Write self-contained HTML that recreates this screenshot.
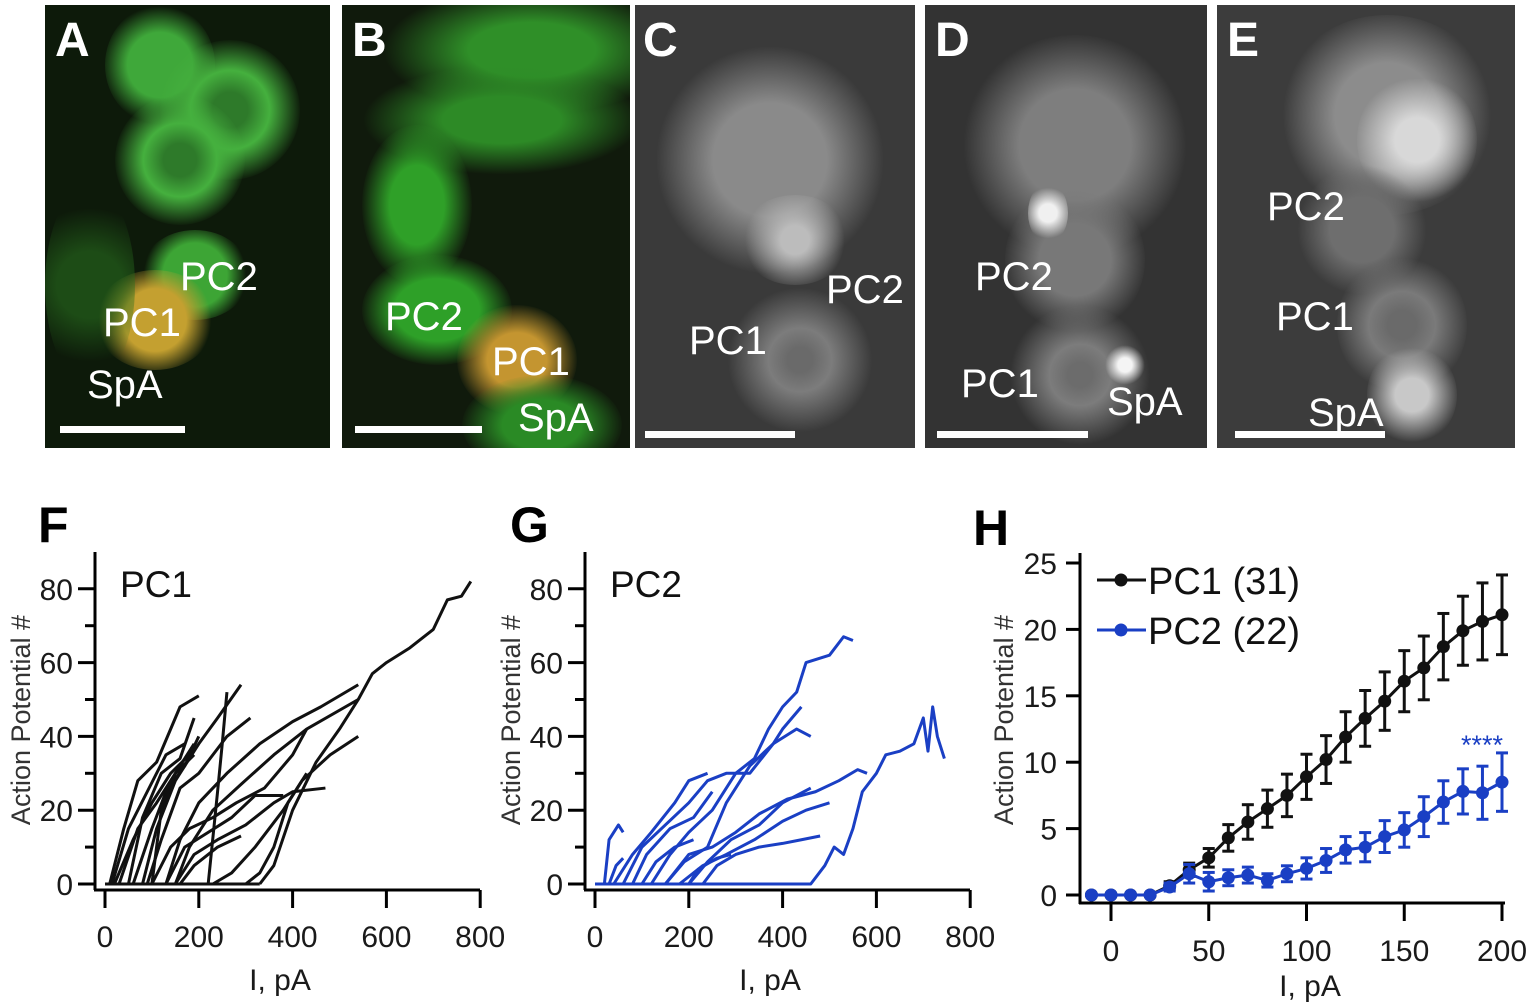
<!DOCTYPE html>
<html><head><meta charset="utf-8">
<style>
html,body{margin:0;padding:0;background:#fff;width:1535px;height:1006px;overflow:hidden;position:relative;font-family:"Liberation Sans",sans-serif}
.panel{position:absolute;overflow:hidden}
.blob{position:absolute;border-radius:50%}
.lbl{position:absolute;color:#fff;font-family:"Liberation Sans Narrow","Liberation Sans",sans-serif;font-size:40px;line-height:1;white-space:nowrap}
.plet{position:absolute;color:#fff;font-weight:bold;font-family:"Liberation Sans Narrow","Liberation Sans",sans-serif;font-size:48px;line-height:1}
.bar{position:absolute;background:#fff;height:7px}
.big{position:absolute;font-weight:bold;font-size:50px;line-height:1;color:#000;font-family:"Liberation Sans",sans-serif}
svg text{font-family:"Liberation Sans",sans-serif}
</style></head><body>

<!-- Panel A -->
<div class="panel" style="left:45px;top:5px;width:285px;height:443px;background:#0d1a0a">
  <div class="blob" style="left:60px;top:0;width:110px;height:120px;background:radial-gradient(circle,#3fa83a 40%,rgba(40,120,30,0) 72%)"></div>
  <div class="blob" style="left:115px;top:35px;width:140px;height:140px;background:radial-gradient(circle,#2e7a2a 18%,#45b03e 40%,rgba(40,120,30,0) 72%)"></div>
  <div class="blob" style="left:70px;top:90px;width:130px;height:130px;background:radial-gradient(circle,#2e7a2a 18%,#45b03e 40%,rgba(40,120,30,0) 72%)"></div>
  <div class="blob" style="left:95px;top:225px;width:110px;height:90px;background:radial-gradient(circle,#3da535 45%,rgba(40,120,30,0) 72%)"></div>
  <div class="blob" style="left:50px;top:265px;width:120px;height:100px;background:radial-gradient(circle,#c4a030 40%,rgba(160,130,20,0) 72%)"></div>
  <div class="blob" style="left:0;top:180px;width:90px;height:200px;background:radial-gradient(circle,rgba(40,110,30,0.6) 30%,rgba(40,110,30,0) 70%)"></div>
  <div class="plet" style="left:10px;top:12px">A</div>
  <div class="lbl" style="left:135px;top:252px">PC2</div>
  <div class="lbl" style="left:58px;top:298px">PC1</div>
  <div class="lbl" style="left:42px;top:360px">SpA</div>
  <div class="bar" style="left:15px;top:421px;width:125px"></div>
</div>

<!-- Panel B -->
<div class="panel" style="left:342px;top:5px;width:288px;height:443px;background:#101a0c">
  <div class="blob" style="left:40px;top:-20px;width:300px;height:130px;background:radial-gradient(ellipse,#2f8f28 30%,rgba(40,120,30,0) 70%)"></div>
  <div class="blob" style="left:20px;top:60px;width:280px;height:110px;background:radial-gradient(ellipse,#2d8a26 30%,rgba(40,120,30,0) 70%)"></div>
  <div class="blob" style="left:20px;top:120px;width:110px;height:160px;background:radial-gradient(ellipse,#2fa028 35%,rgba(40,120,30,0) 72%)"></div>
  <div class="blob" style="left:20px;top:250px;width:150px;height:110px;background:radial-gradient(ellipse,#2ea028 40%,rgba(40,120,30,0) 72%)"></div>
  <div class="blob" style="left:115px;top:300px;width:120px;height:110px;background:radial-gradient(ellipse,#c49530 35%,rgba(150,110,20,0) 72%)"></div>
  <div class="blob" style="left:120px;top:370px;width:160px;height:100px;background:radial-gradient(ellipse,#2a8a25 35%,rgba(40,120,30,0) 72%)"></div>
  <div class="plet" style="left:10px;top:12px">B</div>
  <div class="lbl" style="left:43px;top:292px">PC2</div>
  <div class="lbl" style="left:150px;top:337px">PC1</div>
  <div class="lbl" style="left:176px;top:393px">SpA</div>
  <div class="bar" style="left:13px;top:421px;width:127px"></div>
</div>

<!-- Panel C -->
<div class="panel" style="left:635px;top:5px;width:280px;height:443px;background:#3a3a3a">
  <div class="blob" style="left:20px;top:40px;width:230px;height:230px;background:radial-gradient(circle,#8a8a8a 35%,rgba(120,120,120,0) 70%)"></div>
  <div class="blob" style="left:105px;top:190px;width:110px;height:90px;background:radial-gradient(circle,#bcbcbc 20%,rgba(120,120,120,0) 70%)"></div>
  <div class="blob" style="left:90px;top:280px;width:150px;height:150px;background:radial-gradient(circle,#6a6a6a 12%,#7c7c7c 30%,rgba(110,110,110,0) 68%)"></div>
  <div class="plet" style="left:8px;top:12px">C</div>
  <div class="lbl" style="left:191px;top:265px">PC2</div>
  <div class="lbl" style="left:54px;top:316px">PC1</div>
  <div class="bar" style="left:10px;top:426px;width:150px"></div>
</div>

<!-- Panel D -->
<div class="panel" style="left:925px;top:5px;width:282px;height:443px;background:#333">
  <div class="blob" style="left:35px;top:30px;width:230px;height:220px;background:radial-gradient(circle,#7e7e7e 35%,rgba(110,110,110,0) 70%)"></div>
  <div class="blob" style="left:80px;top:180px;width:140px;height:150px;background:radial-gradient(circle,#787878 35%,rgba(110,110,110,0) 70%)"></div>
  <div class="blob" style="left:103px;top:178px;width:40px;height:60px;background:radial-gradient(circle,#f0f0f0 25%,rgba(200,200,200,0) 70%)"></div>
  <div class="blob" style="left:80px;top:300px;width:150px;height:140px;background:radial-gradient(circle,#6c6c6c 12%,#7c7c7c 30%,rgba(110,110,110,0) 68%)"></div>
  <div class="blob" style="left:180px;top:340px;width:40px;height:40px;background:radial-gradient(circle,#f4f4f4 25%,rgba(200,200,200,0) 70%)"></div>
  <div class="plet" style="left:10px;top:12px">D</div>
  <div class="lbl" style="left:50px;top:252px">PC2</div>
  <div class="lbl" style="left:36px;top:359px">PC1</div>
  <div class="lbl" style="left:182px;top:377px">SpA</div>
  <div class="bar" style="left:12px;top:426px;width:151px"></div>
</div>

<!-- Panel E -->
<div class="panel" style="left:1217px;top:5px;width:298px;height:443px;background:#3c3c3c">
  <div class="blob" style="left:60px;top:10px;width:220px;height:200px;background:radial-gradient(circle,#8c8c8c 35%,rgba(120,120,120,0) 70%)"></div>
  <div class="blob" style="left:140px;top:70px;width:120px;height:130px;background:radial-gradient(circle,#d8d8d8 25%,rgba(150,150,150,0) 70%)"></div>
  <div class="blob" style="left:80px;top:160px;width:130px;height:130px;background:radial-gradient(circle,#6e6e6e 35%,rgba(110,110,110,0) 70%)"></div>
  <div class="blob" style="left:120px;top:250px;width:130px;height:140px;background:radial-gradient(circle,#6a6a6a 15%,#7a7a7a 35%,rgba(110,110,110,0) 70%)"></div>
  <div class="blob" style="left:150px;top:340px;width:90px;height:100px;background:radial-gradient(circle,#c8c8c8 25%,rgba(140,140,140,0) 70%)"></div>
  <div class="plet" style="left:10px;top:12px">E</div>
  <div class="lbl" style="left:50px;top:182px">PC2</div>
  <div class="lbl" style="left:59px;top:292px">PC1</div>
  <div class="lbl" style="left:91px;top:388px">SpA</div>
  <div class="bar" style="left:18px;top:426px;width:150px"></div>
</div>

<div class="big" style="left:38px;top:500px">F</div>
<div class="big" style="left:510px;top:500px">G</div>
<div class="big" style="left:973px;top:503px">H</div>

<svg id="charts" width="1535" height="1006" style="position:absolute;left:0;top:0"></svg>

<script>
// ---- Panel F data (PC1 traces: current pA, AP count) ----
const fTraces = [
 [[0,0],[330,0]],
 [[330,0],[360,5],[400,20],[450,33],[500,42],[540,50],[570,57],[600,60],[650,64],[700,69],[730,77],[760,78],[780,82]],
 [[10,0],[40,15],[70,28],[110,33],[160,48],[200,51]],
 [[15,0],[50,15],[90,25],[130,35],[170,38]],
 [[20,0],[60,12],[100,22],[140,30],[180,35]],
 [[30,0],[70,15],[110,22],[150,30],[190,38]],
 [[60,0],[100,15],[130,25],[170,32],[200,40]],
 [[80,0],[110,15],[150,28],[200,38],[240,45],[290,54]],
 [[90,0],[120,12],[160,26],[200,30],[260,40],[310,45]],
 [[130,0],[160,12],[200,22],[260,30],[330,38],[400,44],[460,48],[540,54]],
 [[150,0],[180,10],[230,20],[290,27],[360,35],[430,42],[540,50]],
 [[100,0],[140,10],[180,15],[230,18],[280,22],[340,26],[400,35],[430,42]],
 [[130,0],[170,10],[220,14],[270,18],[320,24],[380,24]],
 [[150,0],[190,8],[240,12],[300,16],[360,22],[400,25],[470,26]],
 [[230,0],[270,3],[320,10],[380,20],[420,28],[480,35],[540,40]],
 [[300,0],[330,3],[360,10],[390,22],[430,30]],
 [[160,0],[190,5],[240,10],[290,13]],
 [[50,0],[80,18],[120,30],[160,34],[190,45]],
 [[100,0],[120,20],[150,30],[190,35]],
 [[220,0],[240,25],[250,38],[260,52]]
];
// ---- Panel G data (PC2 traces) ----
const gTraces = [
 [[0,0],[460,0],[490,5],[510,10],[530,8],[550,15],[570,25],[600,30],[620,35],[650,36],[680,38],[700,45],[710,36],[720,48],[730,40],[745,34]],
 [[20,0],[30,12],[50,16],[60,14]],
 [[30,0],[45,5],[60,7]],
 [[40,0],[80,8],[120,14],[170,22],[200,28],[240,30]],
 [[60,0],[100,10],[150,16],[200,22],[240,28],[280,30],[330,30],[380,38],[400,42],[440,48]],
 [[80,0],[110,8],[160,15],[210,18],[250,25]],
 [[120,0],[160,8],[200,14],[250,20],[300,30],[340,34],[370,42],[400,48],[430,52],[450,60],[500,62],[530,67],[550,66]],
 [[150,0],[190,6],[240,10],[280,22],[330,32],[380,38],[430,42],[460,40]],
 [[200,0],[240,6],[290,12],[350,16],[400,22],[460,26]],
 [[150,0],[200,8],[250,10],[300,14],[350,19],[410,23],[470,25],[520,28],[560,31],[580,30]],
 [[180,0],[230,5],[280,8],[340,12],[400,17],[450,20],[500,22]],
 [[230,0],[260,5],[300,8],[350,10],[400,11],[440,12],[480,13]],
 [[100,0],[130,6],[170,10],[210,12]],
 [[200,0],[220,4],[260,7],[290,8]]
];
const fgXTicks = [0,200,400,600,800];
const fgYTicks = [0,20,40,60,80];
const fgYMinor = [10,30,50,70];

// ---- Panel H data ----
const hX = [-10,0,10,20,30,40,50,60,70,80,90,100,110,120,130,140,150,160,170,180,190,200];
const pc1Mean = [0,0,0,0,0.7,1.9,2.8,4.3,5.5,6.5,7.5,8.9,10.2,11.9,13.3,14.6,16.1,17.1,18.7,19.9,20.6,21.1];
const pc1Err  = [0,0,0,0,0.3,0.5,0.7,1.0,1.3,1.4,1.6,1.7,1.8,1.9,2.1,2.2,2.3,2.4,2.5,2.6,2.9,3.0];
const pc2Mean = [0,0,0,0,0.6,1.6,1.0,1.3,1.5,1.1,1.6,2.0,2.6,3.4,3.6,4.4,4.9,5.9,7.0,7.8,7.7,8.5];
const pc2Err  = [0,0,0,0,0.3,0.7,0.7,0.6,0.6,0.5,0.6,0.8,0.9,1.0,1.1,1.2,1.3,1.5,1.6,1.7,2.0,2.2];
const hXTicks = [0,50,100,150,200];
const hYTicks = [0,5,10,15,20,25];

const NS='http://www.w3.org/2000/svg';
const svg=document.getElementById('charts');
function mk(tag,attrs,parent){const e=document.createElementNS(NS,tag);for(const k in attrs)e.setAttribute(k,attrs[k]);(parent||svg).appendChild(e);return e;}
function txt(s,attrs,parent){const t=mk('text',attrs,parent);t.textContent=s;return t;}

function traceChart(x0px,traces,color,name,title){
  const g=mk('g',{});
  
  
  const sx=v=>x0px+v*0.469, sy=v=>884-v*3.69;
  const ax=x0px-10;
  const yl=mk('line',{x1:ax,y1:552,x2:ax,y2:890,stroke:'#000','stroke-width':3},g);
  
  
  const xl=mk('line',{x1:ax-1,y1:890,x2:x0px+375,y2:890,stroke:'#000','stroke-width':3},g);
  
  
  fgXTicks.forEach(v=>{
    mk('line',{x1:sx(v),y1:890,x2:sx(v),y2:908,stroke:'#000','stroke-width':3},g);
    const t=txt(String(v),{x:sx(v),y:947,'text-anchor':'middle','font-size':30,fill:'#1a1a1a'},g);
    
    
  });
  fgYTicks.forEach(v=>{
    mk('line',{x1:ax-17,y1:sy(v),x2:ax,y2:sy(v),stroke:'#000','stroke-width':3},g);
    const t=txt(String(v),{x:ax-22,y:sy(v)+11,'text-anchor':'end','font-size':30,fill:'#1a1a1a'},g);
    
    
  });
  fgYMinor.forEach(v=>mk('line',{x1:ax-10,y1:sy(v),x2:ax,y2:sy(v),stroke:'#000','stroke-width':3},g));
  traces.forEach(tr=>{
    const p=mk('polyline',{points:tr.map(q=>sx(q[0])+','+sy(q[1])).join(' '),fill:'none',stroke:color,'stroke-width':3,'stroke-linejoin':'round'},g);
    
    
  });
  const xt=txt('I, pA',{x:x0px+175,y:990,'text-anchor':'middle','font-size':30,fill:'#1a1a1a'},g);
  
  
  const yt=txt('Action Potential #',{x:0,y:0,'text-anchor':'middle','font-size':27,fill:'#333',transform:`translate(${x0px-75},720) rotate(-90)`},g);
  
  
  const tt=txt(title,{x:x0px+15,y:597,'font-size':37,fill:'#111'},g);
  
  
}
traceChart(105,fTraces,'#111','chart-f-pc1','PC1');
traceChart(595,gTraces,'#1a3fc4','chart-g-pc2','PC2');

// Panel H
(function(){
  const g=mk('g',{});
  
  
  const sx=v=>1111+v*1.955, sy=v=>895-v*13.28;
  const yl=mk('line',{x1:1080,y1:553,x2:1080,y2:904,stroke:'#000','stroke-width':3},g);
  
  
  const xl=mk('line',{x1:1079,y1:903,x2:1505,y2:903,stroke:'#000','stroke-width':3},g);
  
  
  hXTicks.forEach(v=>{
    mk('line',{x1:sx(v),y1:903,x2:sx(v),y2:921,stroke:'#000','stroke-width':3},g);
    const t=txt(String(v),{x:sx(v),y:961,'text-anchor':'middle','font-size':30,fill:'#1a1a1a'},g);
    
    
  });
  hYTicks.forEach(v=>{
    mk('line',{x1:1066,y1:sy(v),x2:1080,y2:sy(v),stroke:'#000','stroke-width':3},g);
    const t=txt(String(v),{x:1057,y:sy(v)+11,'text-anchor':'end','font-size':30,fill:'#1a1a1a'},g);
    
    
  });
  function series(mean,err,color,name){
    const sg=mk('g',{},g);
    
    
    mk('polyline',{points:hX.map((x,i)=>sx(x)+','+sy(mean[i])).join(' '),fill:'none',stroke:color,'stroke-width':3},sg);
    hX.forEach((x,i)=>{
      if(err[i]>0){
        const t=sy(mean[i]+err[i]), b=sy(mean[i]-err[i]);
        mk('line',{x1:sx(x),y1:t,x2:sx(x),y2:b,stroke:color,'stroke-width':3},sg);
        mk('line',{x1:sx(x)-6,y1:t,x2:sx(x)+6,y2:t,stroke:color,'stroke-width':3},sg);
        mk('line',{x1:sx(x)-6,y1:b,x2:sx(x)+6,y2:b,stroke:color,'stroke-width':3},sg);
      }
      const c=mk('circle',{cx:sx(x),cy:sy(mean[i]),r:6.5,fill:color},sg);
      
      
    });
  }
  series(pc1Mean,pc1Err,'#111','series-pc1');
  series(pc2Mean,pc2Err,'#1a3fc4','series-pc2');
  const st=txt('****',{x:1482,y:754,'text-anchor':'middle','font-size':27,fill:'#1a3fc4'},g);
  
  
  // legend
  [['PC1 (31)','#111',580],['PC2 (22)','#1a3fc4',630]].forEach(d=>{
    const lg=mk('g',{},g);
    
    
    mk('line',{x1:1097,y1:d[2],x2:1146,y2:d[2],stroke:d[1],'stroke-width':3},lg);
    mk('circle',{cx:1121,cy:d[2],r:6.5,fill:d[1]},lg);
    txt(d[0],{x:1148,y:d[2]+14,'font-size':38,fill:'#111'},lg);
  });
  const xt=txt('I, pA',{x:1310,y:996,'text-anchor':'middle','font-size':30,fill:'#1a1a1a'},g);
  
  
  const yt=txt('Action Potential #',{x:0,y:0,'text-anchor':'middle','font-size':27,fill:'#333',transform:'translate(1013,720) rotate(-90)'},g);
  
  
})();
</script>
</body></html>
